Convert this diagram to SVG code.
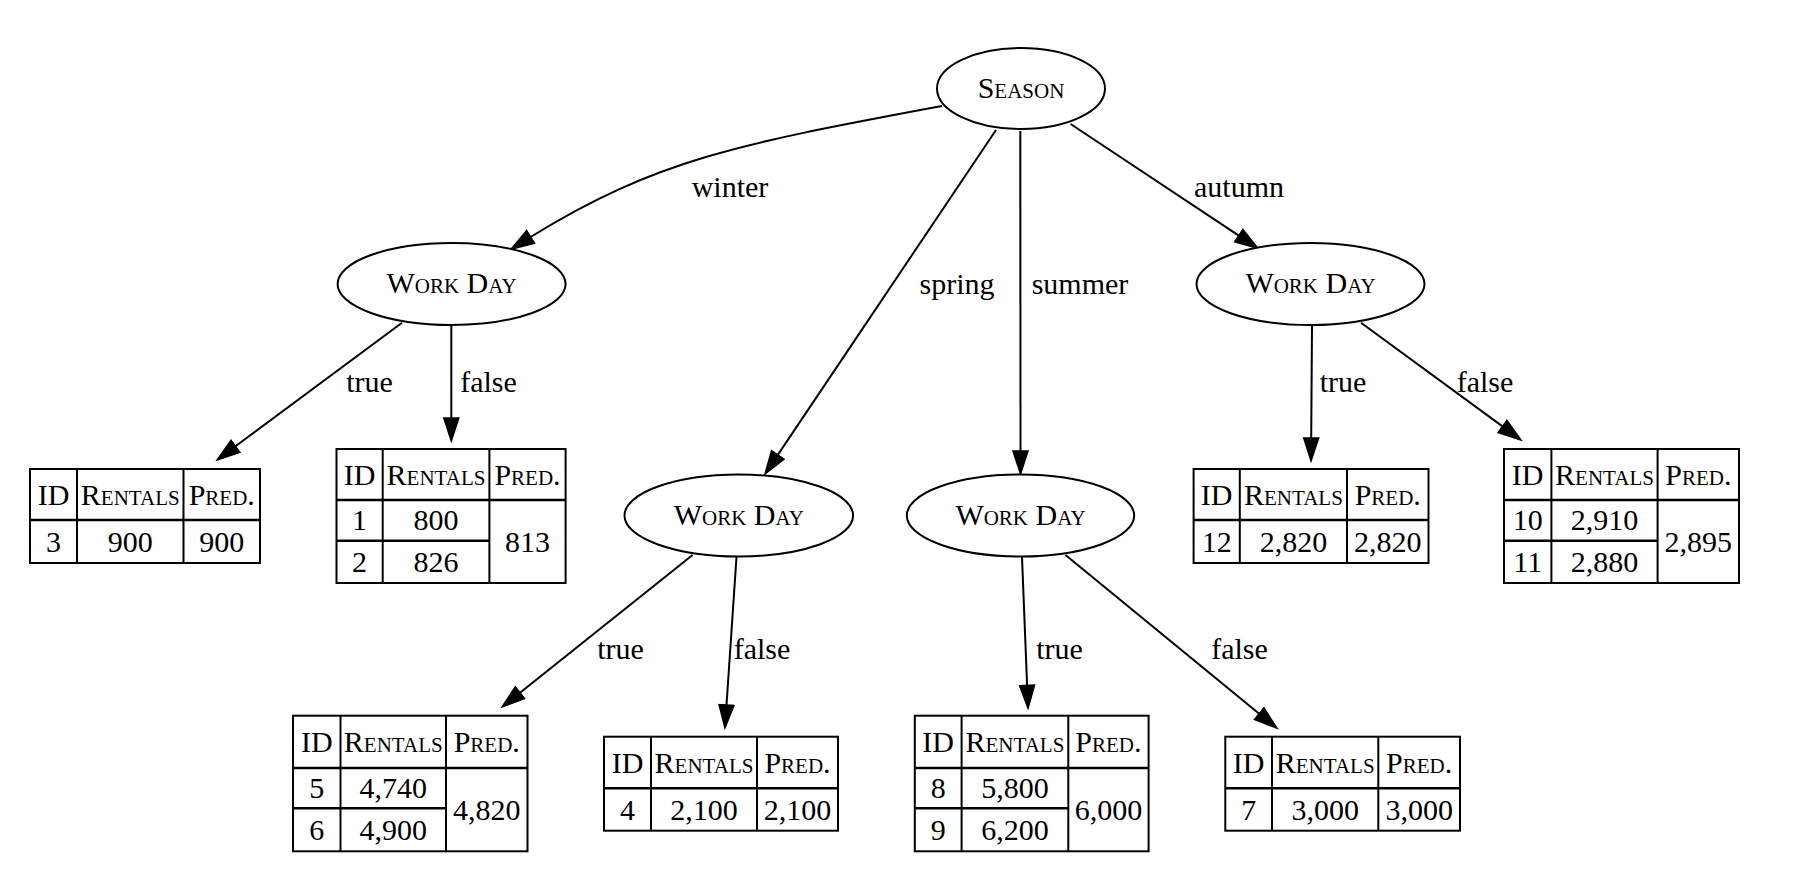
<svg xmlns="http://www.w3.org/2000/svg" width="1810" height="878" viewBox="0 0 1810 878">
<style>
.t{font-family:"Liberation Serif","Times New Roman",serif;font-size:30px;text-anchor:middle;fill:#000}
.sc{font-variant:small-caps}
.nd{fill:#fff;stroke:#000;stroke-width:2}
.ed{fill:none;stroke:#000;stroke-width:2;marker-end:url(#ah)}
.tb{fill:#fff;stroke:#000;stroke-width:2}
.ln{stroke:#000;stroke-width:2;fill:none}
.hl{stroke:#000;stroke-width:2.6;fill:none}
</style>
<defs>
<marker id="ah" markerUnits="userSpaceOnUse" markerWidth="26" markerHeight="18" viewBox="0 0 26 18" refX="1" refY="9" orient="auto">
<path d="M1,1.5 L24,9 L1,16.5 z" fill="#000" stroke="#000" stroke-width="1.5"/>
</marker>
</defs>
<rect x="0" y="0" width="1810" height="878" fill="#fff"/>

<g id="connectors">
<g id="e-winter"><path class="ed" d="M942,106 C745,143 658,158 530.6,237"/><text class="t" x="730" y="197">winter</text></g>
<g id="e-spring"><path class="ed" d="M996,130 L777.8,454.9"/><text class="t" x="957" y="294">spring</text></g>
<g id="e-summer"><path class="ed" d="M1020.3,131 L1020.5,451"/><text class="t" x="1080" y="294">summer</text></g>
<g id="e-autumn"><path class="ed" d="M1070.6,124 L1238.8,235.6"/><text class="t" x="1239" y="197">autumn</text></g>
<g id="e-wl-true"><path class="ed" d="M402,322.7 L235.5,446.3"/><text class="t" x="369.5" y="392">true</text></g>
<g id="e-wl-false"><path class="ed" d="M451.3,326 L451.3,418"/><text class="t" x="488.5" y="392">false</text></g>
<g id="e-wr-true"><path class="ed" d="M1312,326 L1311.2,438"/><text class="t" x="1343" y="392">true</text></g>
<g id="e-wr-false"><path class="ed" d="M1361,322.7 L1502.5,426.4"/><text class="t" x="1485" y="392">false</text></g>
<g id="e-wsp-true"><path class="ed" d="M692.6,555 L520,692.7"/><text class="t" x="620.5" y="659">true</text></g>
<g id="e-wsp-false"><path class="ed" d="M736.5,557 L726.5,705"/><text class="t" x="762" y="659">false</text></g>
<g id="e-wsu-true"><path class="ed" d="M1022,557.3 L1027.1,685.3"/><text class="t" x="1059.5" y="659">true</text></g>
<g id="e-wsu-false"><path class="ed" d="M1065.5,555 L1259.2,713.7"/><text class="t" x="1239.5" y="659">false</text></g>
</g>

<g id="season"><ellipse class="nd" cx="1021" cy="88.5" rx="84" ry="40.5"/><text class="t sc" x="1021" y="97.5">Season</text></g>
<g id="workday-winter"><ellipse class="nd" cx="451.6" cy="284" rx="114" ry="41"/><text class="t sc" x="451.6" y="293">Work Day</text></g>
<g id="workday-autumn"><ellipse class="nd" cx="1310.5" cy="284" rx="114" ry="41"/><text class="t sc" x="1310.5" y="293">Work Day</text></g>
<g id="workday-spring"><ellipse class="nd" cx="738.8" cy="515.5" rx="114.3" ry="41"/><text class="t sc" x="738.8" y="524.5">Work Day</text></g>
<g id="workday-summer"><ellipse class="nd" cx="1020.5" cy="515.5" rx="113.7" ry="41"/><text class="t sc" x="1020.5" y="524.5">Work Day</text></g>

<g id="leaf-3">
<rect class="tb" x="30" y="469" width="230" height="94"/>
<path class="hl" d="M30,520 H260"/><path class="ln" d="M77,469 V563 M183.5,469 V563"/>
<text class="t" x="53.5" y="504.5">ID</text><text class="t sc" x="130.25" y="504.5">Rentals</text><text class="t sc" x="221.75" y="504.5">Pred.</text>
<text class="t" x="53.5" y="551.5">3</text><text class="t" x="130.25" y="551.5">900</text><text class="t" x="221.75" y="551.5">900</text>
</g>

<g id="leaf-1-2">
<rect class="tb" x="336.5" y="449" width="229.1" height="134"/>
<path class="hl" d="M336.5,500 H565.6"/><path class="hl" d="M336.5,540.7 H489.4"/><path class="ln" d="M382.7,449 V583 M489.4,449 V583"/>
<text class="t" x="359.6" y="484.5">ID</text><text class="t sc" x="436" y="484.5">Rentals</text><text class="t sc" x="527.5" y="484.5">Pred.</text>
<text class="t" x="359.6" y="530.3">1</text><text class="t" x="436" y="530.3">800</text>
<text class="t" x="359.6" y="571.8">2</text><text class="t" x="436" y="571.8">826</text>
<text class="t" x="527.5" y="551.5">813</text>
</g>

<g id="leaf-5-6">
<rect class="tb" x="293" y="715.7" width="234.5" height="135.6"/>
<path class="hl" d="M293,768 H527.5"/><path class="hl" d="M293,808.3 H446"/><path class="ln" d="M340.5,715.7 V851.3 M446,715.7 V851.3"/>
<text class="t" x="316.75" y="751.8">ID</text><text class="t sc" x="393.25" y="751.8">Rentals</text><text class="t sc" x="486.75" y="751.8">Pred.</text>
<text class="t" x="316.75" y="798.2">5</text><text class="t" x="393.25" y="798.2">4,740</text>
<text class="t" x="316.75" y="839.8">6</text><text class="t" x="393.25" y="839.8">4,900</text>
<text class="t" x="486.75" y="819.6">4,820</text>
</g>

<g id="leaf-4">
<rect class="tb" x="604" y="736.7" width="234" height="94"/>
<path class="hl" d="M604,788.3 H838"/><path class="ln" d="M651,736.7 V830.7 M757,736.7 V830.7"/>
<text class="t" x="627.5" y="772.5">ID</text><text class="t sc" x="704" y="772.5">Rentals</text><text class="t sc" x="797.5" y="772.5">Pred.</text>
<text class="t" x="627.5" y="819.5">4</text><text class="t" x="704" y="819.5">2,100</text><text class="t" x="797.5" y="819.5">2,100</text>
</g>

<g id="leaf-8-9">
<rect class="tb" x="914.8" y="715.7" width="233.8" height="135.6"/>
<path class="hl" d="M914.8,768 H1148.6"/><path class="hl" d="M914.8,808.3 H1068.3"/><path class="ln" d="M961.6,715.7 V851.3 M1068.3,715.7 V851.3"/>
<text class="t" x="938.2" y="751.8">ID</text><text class="t sc" x="1014.95" y="751.8">Rentals</text><text class="t sc" x="1108.45" y="751.8">Pred.</text>
<text class="t" x="938.2" y="798.2">8</text><text class="t" x="1014.95" y="798.2">5,800</text>
<text class="t" x="938.2" y="839.8">9</text><text class="t" x="1014.95" y="839.8">6,200</text>
<text class="t" x="1108.45" y="819.6">6,000</text>
</g>

<g id="leaf-7">
<rect class="tb" x="1225.3" y="736.7" width="234.7" height="94"/>
<path class="hl" d="M1225.3,788.3 H1460"/><path class="ln" d="M1272,736.7 V830.7 M1378.3,736.7 V830.7"/>
<text class="t" x="1248.65" y="772.5">ID</text><text class="t sc" x="1325.15" y="772.5">Rentals</text><text class="t sc" x="1419.15" y="772.5">Pred.</text>
<text class="t" x="1248.65" y="819.5">7</text><text class="t" x="1325.15" y="819.5">3,000</text><text class="t" x="1419.15" y="819.5">3,000</text>
</g>

<g id="leaf-12">
<rect class="tb" x="1193.6" y="469" width="234.9" height="94"/>
<path class="hl" d="M1193.6,520 H1428.5"/><path class="ln" d="M1239.8,469 V563 M1347,469 V563"/>
<text class="t" x="1216.7" y="504.5">ID</text><text class="t sc" x="1293.4" y="504.5">Rentals</text><text class="t sc" x="1387.75" y="504.5">Pred.</text>
<text class="t" x="1216.7" y="551.5">12</text><text class="t" x="1293.4" y="551.5">2,820</text><text class="t" x="1387.75" y="551.5">2,820</text>
</g>

<g id="leaf-10-11">
<rect class="tb" x="1504" y="449" width="235" height="134"/>
<path class="hl" d="M1504,500 H1739"/><path class="hl" d="M1504,540.7 H1657.6"/><path class="ln" d="M1551.4,449 V583 M1657.6,449 V583"/>
<text class="t" x="1527.7" y="484.5">ID</text><text class="t sc" x="1604.5" y="484.5">Rentals</text><text class="t sc" x="1698.3" y="484.5">Pred.</text>
<text class="t" x="1527.7" y="530.3">10</text><text class="t" x="1604.5" y="530.3">2,910</text>
<text class="t" x="1527.7" y="571.8">11</text><text class="t" x="1604.5" y="571.8">2,880</text>
<text class="t" x="1698.3" y="551.5">2,895</text>
</g>
</svg>
